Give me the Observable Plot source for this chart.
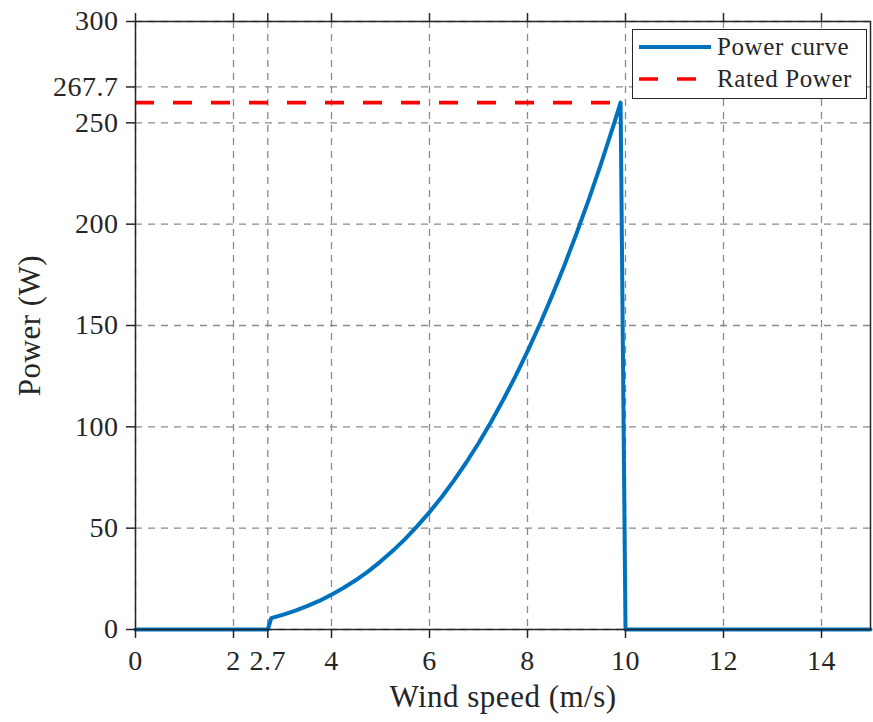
<!DOCTYPE html>
<html>
<head>
<meta charset="utf-8">
<script src="https://cdn.jsdelivr.net/npm/d3@7"></script>
<script src="https://cdn.jsdelivr.net/npm/@observablehq/plot@0.6"></script>
<style>
  html, body { margin: 0; padding: 0; background: #fff; }
  #wrap { position: relative; width: 873px; height: 722px; }
  #legend {
    position: absolute; left: 632px; top: 29px; width: 235px; height: 70px;
    border: 1.5px solid #262626; background: #fff; box-sizing: border-box;
    font-family: "Liberation Serif", serif; font-size: 25px; color: #262626; letter-spacing: 0.6px;
  }
  .row { position: absolute; left: 6px; height: 32px; display: flex; align-items: center; white-space: nowrap; }
  .row svg { margin-right: 6px; }
</style>
</head>
<body>
<div id="wrap"></div>
<script>
const xTicks = [0, 2, 2.7, 4, 6, 8, 10, 12, 14];
const xTickLabels = ["0", "2", "2.7", "4", "6", "8", "10", "12", "14"];
const yTicks = [0, 50, 100, 150, 200, 250, 267.7, 300];
const yTickLabels = ["0", "50", "100", "150", "200", "250", "267.7", "300"];

const windSpeed = [0, 2.7, 2.77, 3.0, 3.25, 3.5, 3.75, 4.0, 4.25, 4.5, 4.75, 5.0, 5.25, 5.5, 5.75, 6.0,
  6.25, 6.5, 6.75, 7.0, 7.25, 7.5, 7.75, 8.0, 8.25, 8.5, 8.75, 9.0, 9.25, 9.5, 9.75, 9.9, 10.0, 15];
const power = [0, 0, 5.6, 7.2, 9.2, 11.5, 14.1, 17.2, 20.6, 24.4, 28.7, 33.5, 38.8, 44.6, 51.0, 57.9,
  65.4, 73.6, 82.4, 91.9, 102.1, 113.1, 124.8, 137.2, 150.5, 164.6, 179.5, 195.4, 212.1, 229.8, 248.4, 260.0, 0, 0];

const ratedPower = 260;
const ratedSpan = [0, 9.9];

const curve = windSpeed.map((v, i) => ({v, p: power[i]}));

const font = "Liberation Serif, DejaVu Serif, serif";

const chart = Plot.plot({
  width: 873,
  height: 722,
  marginLeft: 135,
  marginRight: 3,
  marginTop: 21,
  marginBottom: 93,
  x: {domain: [0, 15]},
  y: {domain: [0, 300]},
  style: {fontFamily: font, fontSize: "28px", color: "#262626", background: "#fff", overflow: "visible", letterSpacing: "0.5px"},
  marks: [
    Plot.gridX(xTicks, {stroke: "#8a8a8a", strokeOpacity: 1, strokeWidth: 1.3, strokeDasharray: "7,6"}),
    Plot.gridY(yTicks, {stroke: "#8a8a8a", strokeOpacity: 1, strokeWidth: 1.3, strokeDasharray: "7,6"}),
    Plot.ruleY([ratedPower], {x1: ratedSpan[0], x2: ratedSpan[1], stroke: "#ff0000", strokeWidth: 3.7, strokeDasharray: "19,19"}),
    Plot.line(curve, {x: "v", y: "p", stroke: "#0072BD", strokeWidth: 4, strokeLinejoin: "round"}),
    Plot.frame({stroke: "#262626", strokeWidth: 1.5}),
    Plot.axisX(xTicks, {anchor: "bottom", tickSize: 9, tickPadding: 12, tickFormat: (d, i) => xTickLabels[i], label: null, fontSize: 28, stroke: "#262626", strokeWidth: 1.5}),
    Plot.axisX(xTicks, {anchor: "top", tickSize: 9, tickFormat: () => "", label: null, stroke: "#262626", strokeWidth: 1.5}),
    Plot.axisY(yTicks, {anchor: "left", tickSize: 9, tickPadding: 8, tickFormat: (d, i) => yTickLabels[i], label: null, fontSize: 28, stroke: "#262626", strokeWidth: 1.5}),
    Plot.text(["Wind speed (m/s)"], {frameAnchor: "bottom", textAnchor: "middle", dy: 77, fontSize: 31, fill: "#262626"}),
    Plot.text(["Power (W)"], {frameAnchor: "left", textAnchor: "middle", dx: -105, rotate: -90, fontSize: 31, fill: "#262626"})
  ]
});

const wrap = document.getElementById("wrap");
wrap.appendChild(chart);

const legend = document.createElement("div");
legend.id = "legend";
legend.innerHTML = `
  <div class="row" style="top:1px"><svg width="72" height="10"><line x1="0" y1="5" x2="72" y2="5" stroke="#0072BD" stroke-width="4"/></svg><span>Power curve</span></div>
  <div class="row" style="top:33px"><svg width="72" height="10"><line x1="0" y1="5" x2="72" y2="5" stroke="#ff0000" stroke-width="3.7" stroke-dasharray="19,19"/></svg><span>Rated Power</span></div>`;
wrap.appendChild(legend);
</script>
</body>
</html>
